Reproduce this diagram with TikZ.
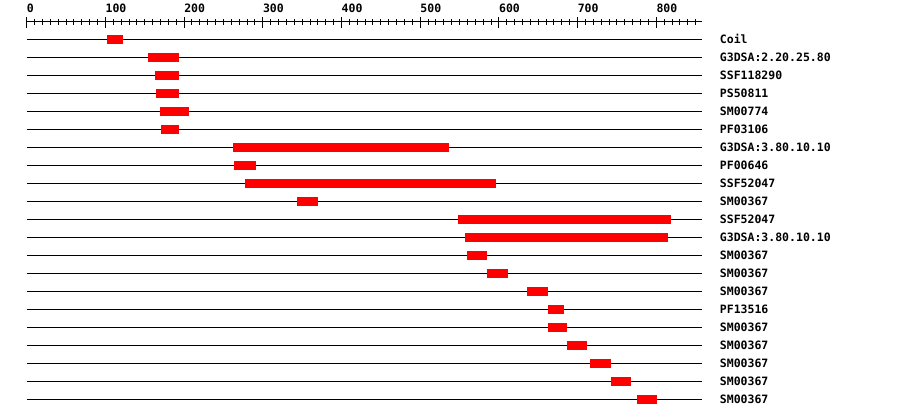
\documentclass[tikz,border=0pt]{standalone}
\usepackage{fontspec}
\setmonofont{DejaVu Sans Mono}
\usepackage{tikz}
\usetikzlibrary{positioning}

\begin{document}
\begin{tikzpicture}
	[x=0.787pt, y=-1pt,
	 track/.style={draw=black, line width=1pt},
	 hit/.style={fill=red, draw=none},
	 dom/.style={anchor=west, inner sep=0pt, text height=8.4pt, text depth=0pt,
	   font=\ttfamily\bfseries\fontsize{11.5}{12}\selectfont},
	 major/.style={draw=black, line width=1pt},
	 minor/.style={draw=black, line width=1pt}]
   \useasboundingbox (-26.7pt,21.7pt) rectangle (873.3pt,-396.3pt);

   % scale on top
   \coordinate (a_0) at (0,0);
   \coordinate (a_end) at (857.7,0);
   \draw[track] (a_0) -- (a_end);
   \foreach \t in {10,20,...,850}
     \draw[minor] (\t,-2.4) -- (\t,3);
   \foreach \t in {0,100,...,800}
   {
     \draw[major] (\t,-4.4) -- (\t,6.6);
     \node[dom] (s_\t) at (\t,-13.7) {\t};
   }

   % one track per hit
   \foreach \i/\from/\to/\name in
     {0/102/122/Coil, 1/154/194/G3DSA:2.20.25.80, 2/163/194/SSF118290,
      3/164/194/PS50811, 4/169/206/SM00774, 5/171/194/PF03106,
      6/262/537/G3DSA:3.80.10.10, 7/263/291/PF00646, 8/277/596/SSF52047,
      9/343/370/SM00367, 10/548/819/SSF52047, 11/557/815/G3DSA:3.80.10.10,
      12/560/585/SM00367, 13/585/612/SM00367, 14/636/662/SM00367,
      15/662/683/PF13516, 16/662/686/SM00367, 17/686/712/SM00367,
      18/716/742/SM00367, 19/742/768/SM00367, 20/775/801/SM00367}
   {
     \pgfmathsetmacro{\y}{17.6+18*\i}
     \node[dom] (d_\i) at (880.6,\y) {\name};
     \coordinate (t_\i) at (0,\y);
     \draw[track] (t_\i) -- ([xshift=-18pt]d_\i.west);
     \fill[hit] (\from,\y-4.5) rectangle (\to,\y+4.5);
   }
\end{tikzpicture}
\end{document}
